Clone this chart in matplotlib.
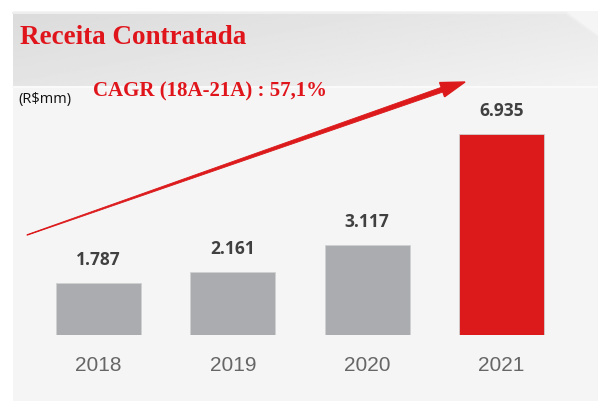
import numpy as np
import matplotlib.pyplot as plt
from matplotlib.patches import Polygon, Rectangle

# dados
anos = ["2018", "2019", "2020", "2021"]
receita = [1787, 2161, 3117, 6935]
rotulos = ["1.787", "2.161", "3.117", "6.935"]
cores = ["#abacb0", "#abacb0", "#abacb0", "#dc1a1c"]

W, H = 598, 401
fig = plt.figure(figsize=(W / 100, H / 100), dpi=100)
fig.patch.set_facecolor("white")

# fundo (coordenadas em pixels)
bg = fig.add_axes([0, 0, 1, 1])
bg.set_xlim(0, W)
bg.set_ylim(H, 0)
bg.axis("off")
bg.add_patch(Rectangle((13, 11), W - 13, H - 11, facecolor="#f5f5f5", edgecolor="none"))

# faixa do titulo com degrade
faixa = Polygon([(13, 13), (566, 13), (598, 37), (598, 86), (13, 86)], closed=True,
                facecolor="none", edgecolor="none")
bg.add_patch(faixa)
gx, gy = np.meshgrid(np.linspace(0, 1, 200), np.linspace(0, 1, 60))
grad = 0.86 + 0.09 * (0.6 * gx + 0.4 * gy)
img = bg.imshow(grad, cmap="gray", vmin=0, vmax=1, extent=(13, 598, 86, 13),
                aspect="auto", zorder=1)
img.set_clip_path(faixa)
bg.plot([13, 566, 598], [13, 13, 37], color="#eeeeee", lw=1.5, zorder=2)
bg.plot([13, 598], [87, 87], color="#fafafa", lw=1.5, zorder=2)

# seta CAGR (afinando no inicio)
x0, y0 = 27, 235
x1, y1 = 444, 89
tip = (465, 82)
d = np.array([x1 - x0, y1 - y0], dtype=float)
d /= np.hypot(*d)
n = np.array([-d[1], d[0]])
corpo = [(x0 + n[0] * 0.3, y0 + n[1] * 0.3), (x1 + n[0] * 2.5, y1 + n[1] * 2.5),
         (x1 - n[0] * 2.5, y1 - n[1] * 2.5), (x0 - n[0] * 0.3, y0 - n[1] * 0.3)]
bg.add_patch(Polygon(corpo, closed=True, facecolor="#dc1a1c", edgecolor="#dc1a1c", lw=0.6, zorder=3))
hb = (x1 - d[0] * 2, y1 - d[1] * 2)
cabeca = [tip, (hb[0] + n[0] * 7.5, hb[1] + n[1] * 7.5), (hb[0] - n[0] * 7.5, hb[1] - n[1] * 7.5)]
bg.add_patch(Polygon(cabeca, closed=True, facecolor="#dc1a1c", edgecolor="#dc1a1c", zorder=3))

# textos
bg.text(20, 38, "Receita Contratada", color="#e0141b", fontsize=19.5, fontweight="bold",
        family="Liberation Serif", va="center", ha="left", zorder=4)
bg.text(93, 91, "CAGR (18A-21A) : 57,1%", color="#e0141b", fontsize=15, fontweight="bold",
        family="Liberation Serif", va="center", ha="left", zorder=4)
bg.text(18, 100, "(R$mm)", color="#111111", fontsize=10.5, family="Open Sans",
        va="center", ha="left", zorder=4)

# barras
base = 66
px_por_cat = 134.3
un_por_px = 6935 / 201
ax = fig.add_axes([0, base / H, 1, (H - base) / H])
ax.patch.set_alpha(0)
x = np.arange(len(anos))
ax.set_xlim(-98.5 / px_por_cat, (W - 98.5) / px_por_cat)
ax.set_ylim(0, (H - base) * un_por_px)
ax.bar(x, receita, width=85 / px_por_cat, color=cores, edgecolor="#d0d0d0", lw=0.6, zorder=3)
for xi, v, r in zip(x, receita, rotulos):
    ax.annotate(r, (xi, v), xytext=(0, 16.5), textcoords="offset points", ha="center",
                va="center", fontsize=12.5, fontweight="bold", color="#404040", family="Open Sans")
ax.set_xticks(x)
ax.set_xticklabels(anos, fontsize=15, color="#666666", family="Liberation Sans")
ax.tick_params(axis="x", length=0, pad=15)
ax.set_yticks([])
for s in ax.spines.values():
    s.set_visible(False)

fig.savefig("out.png", dpi=100)
